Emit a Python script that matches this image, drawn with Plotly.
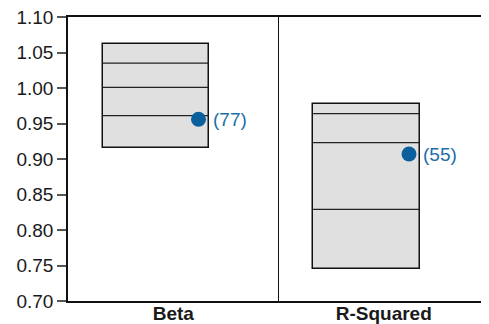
import plotly.graph_objects as go

categories = ["Beta", "R-Squared"]
box_low = [0.915, 0.745]
box_high = [1.062, 0.978]
inner_lines = [[1.035, 1.001, 0.961], [0.964, 0.923, 0.829]]
dot_values = [0.956, 0.907]
dot_labels = ["(77)", "(55)"]

pos = list(range(len(categories)))
box_offset = -0.335
box_width = 0.505
dot_shift = 0.12

fig = go.Figure()

fig.add_trace(go.Bar(
    x=pos, y=[h - l for h, l in zip(box_high, box_low)], base=box_low,
    width=box_width, offset=box_offset,
    marker=dict(color="#e0e0e0", line=dict(color="#111111", width=1.5)),
    hoverinfo="skip", showlegend=False))

for p, levels in zip(pos, inner_lines):
    for lv in levels:
        fig.add_trace(go.Scatter(
            x=[p + box_offset, p + box_offset + box_width], y=[lv, lv],
            mode="lines", line=dict(color="#222222", width=1.2),
            hoverinfo="skip", showlegend=False))

fig.add_trace(go.Scatter(
    x=[p + dot_shift for p in pos], y=dot_values,
    mode="markers", marker=dict(color="#0b5f9c", size=15),
    hoverinfo="skip", showlegend=False))

for p, v, t in zip(pos, dot_values, dot_labels):
    fig.add_annotation(
        x=p + dot_shift, y=v, text=t, showarrow=False,
        xanchor="left", xshift=12,
        font=dict(color="#1c6ea8", size=19))

fig.add_vline(x=0.5, line=dict(color="#111111", width=1))

# page body adds an 8px offset, so the figure is drawn 8px smaller
fig.update_layout(
    width=481, height=316,
    margin=dict(l=60, r=0, t=9, b=23),
    plot_bgcolor="white", paper_bgcolor="white",
    font=dict(family="Liberation Sans, Arial", size=19, color="#1a1a1a"),
    bargap=0,
)
fig.update_xaxes(
    range=[-0.5, 1.5], tickvals=pos,
    ticktext=["<b>%s</b>" % c for c in categories],
    showgrid=False, zeroline=False, showline=True, mirror=True,
    linecolor="#111111", linewidth=1.5, ticks="", tickfont=dict(size=19),
    ticklabelstandoff=-6, ticklabeloverflow="allow", automargin=False)
fig.update_yaxes(
    range=[0.70, 1.10], dtick=0.05, tickformat=".2f",
    showgrid=False, zeroline=False, showline=True,
    linecolor="#111111", linewidth=1.5,
    ticks="outside", ticklen=9, tickcolor="#555555", tickwidth=1.5,
    tickfont=dict(size=19), ticklabeloverflow="allow", automargin=False)

fig.write_html("out.html")
